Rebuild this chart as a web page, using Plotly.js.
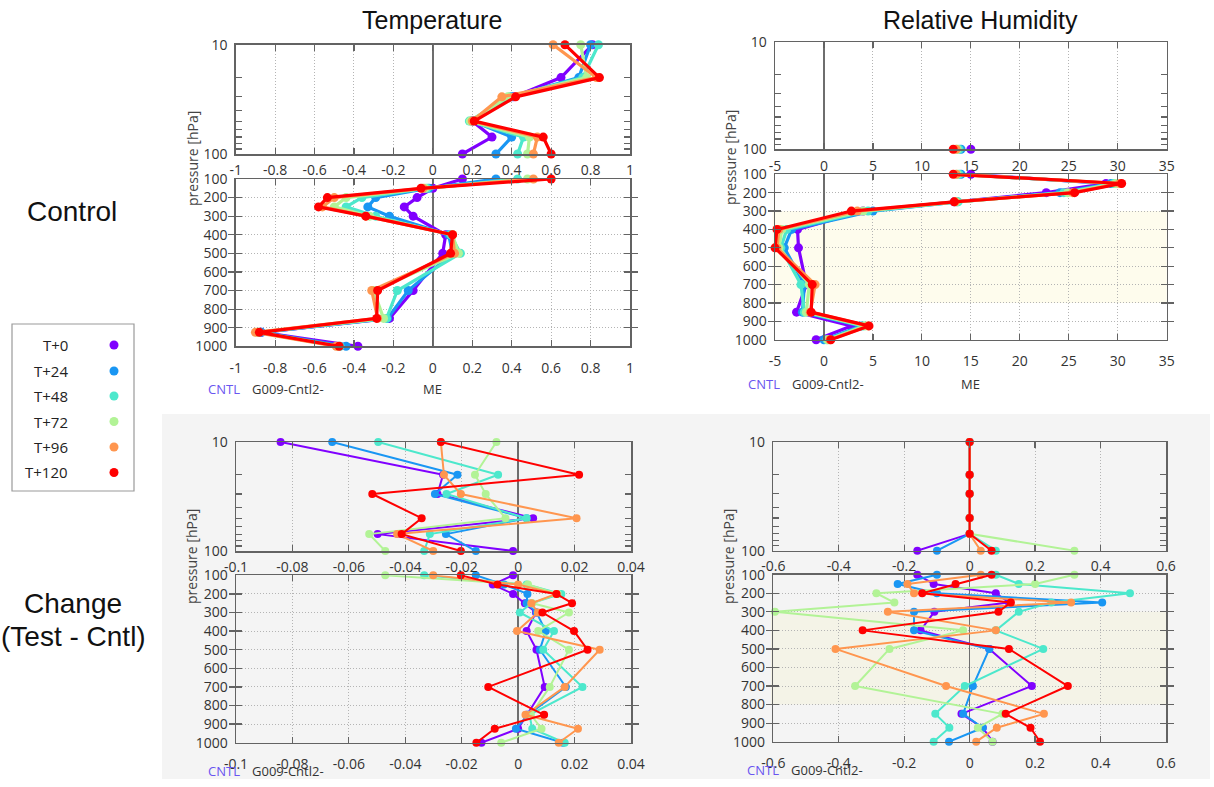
<!DOCTYPE html>
<html>
<head>
<meta charset="utf-8">
<script src="https://cdn.plot.ly/plotly-3.0.1.min.js"></script>
<style>
  html, body { margin: 0; padding: 0; background: #ffffff; }
  #chart { width: 1214px; height: 787px; }
</style>
</head>
<body>
<div id="chart"></div>
<script>
// Forecast lead times and pressure levels (hPa)
const leadTimes = ['T+0', 'T+24', 'T+48', 'T+72', 'T+96', 'T+120'];
const upperLevels = [10, 20, 30, 50, 70, 100];
const lowerLevels = [100, 150, 200, 250, 300, 400, 500, 700, 850, 925, 1000];

// Control: temperature mean error, one row per lead time
const cntlTempUpper = [
  [0.81, 0.65, 0.41, 0.20, 0.30, 0.15],
  [0.80, 0.74, 0.40, 0.20, 0.40, 0.32],
  [0.84, 0.76, 0.39, 0.185, 0.46, 0.43],
  [0.75, 0.78, 0.38, 0.19, 0.49, 0.48],
  [0.61, 0.83, 0.35, 0.20, 0.53, 0.51],
  [0.67, 0.845, 0.42, 0.21, 0.56, 0.60]
];
const cntlTempLower = [
  [0.15, 0.00, -0.08, -0.145, -0.10, 0.065, 0.05, -0.10, -0.22, -0.87, -0.38],
  [0.32, -0.02, -0.29, -0.33, -0.22, 0.08, 0.10, -0.125, -0.23, -0.87, -0.44],
  [0.43, -0.03, -0.36, -0.44, -0.29, 0.09, 0.14, -0.18, -0.235, -0.88, -0.47],
  [0.48, -0.04, -0.44, -0.50, -0.32, 0.10, 0.13, -0.30, -0.25, -0.89, -0.48],
  [0.51, -0.05, -0.50, -0.56, -0.34, 0.10, 0.11, -0.31, -0.28, -0.90, -0.49],
  [0.60, -0.06, -0.535, -0.58, -0.34, 0.10, 0.09, -0.28, -0.285, -0.88, -0.475]
];

// Control: relative humidity mean error
const cntlRhUpper = [
  [null, null, null, null, null, 15.0],
  [null, null, null, null, null, 14.0],
  [null, null, null, null, null, 13.8],
  [null, null, null, null, null, 13.6],
  [null, null, null, null, null, 13.5],
  [null, null, null, null, null, 13.2]
];
const cntlRhLower = [
  [15.0, 28.8, 22.7, 13.3, 4.0, -2.7, -2.6, -1.8, -2.8, 2.8, -0.8],
  [14.0, 29.3, 24.1, 13.6, 5.0, -3.3, -4.05, -2.0, -2.2, 3.8, 0.0],
  [13.8, 29.6, 24.5, 13.7, 4.5, -3.8, -4.4, -2.35, -2.0, 4.0, 0.3],
  [13.6, 29.8, 24.9, 13.5, 4.0, -4.3, -4.6, -1.5, -1.8, 4.2, 0.4],
  [13.5, 30.2, 25.4, 13.4, 3.4, -4.6, -4.8, -0.9, -1.4, 4.5, 0.6],
  [13.2, 30.4, 25.6, 13.3, 2.8, -4.8, -5.0, -1.2, -1.3, 4.6, 0.7]
];

// Change (Test - Cntl): temperature
const diffTempUpper = [
  [-0.0842, -0.0266, -0.0286, 0.0053, -0.0498, -0.0018],
  [-0.0659, -0.0215, -0.0295, 0.0030, -0.0256, -0.0150],
  [-0.0496, -0.0071, -0.0254, 0.0030, -0.0313, -0.0333],
  [-0.0077, -0.0153, -0.0115, -0.0045, -0.0528, -0.0471],
  [-0.0274, -0.0263, -0.0203, 0.0207, -0.0429, -0.0301],
  [-0.0274, 0.0216, -0.0517, -0.0342, -0.0413, -0.0203]
];
const diffTempLower = [
  [-0.0018, -0.0090, -0.0018, 0.0024, 0.0063, 0.0030, 0.0065, 0.0094, 0.0030, 0.0000, -0.0130],
  [-0.0150, -0.0050, 0.0033, 0.0030, 0.0065, 0.0098, 0.0077, 0.0169, 0.0035, -0.0008, 0.0159],
  [-0.0333, 0.0030, 0.0153, 0.0047, 0.0006, 0.0127, 0.0089, 0.0228, 0.0040, 0.0050, 0.0165],
  [-0.0471, 0.0035, 0.0140, 0.0050, 0.0180, 0.0071, 0.0180, 0.0112, 0.0045, 0.0083, -0.0060],
  [-0.0301, 0.0000, 0.0135, 0.0047, 0.0070, -0.0004, 0.0289, 0.0165, 0.0026, 0.0212, 0.0144],
  [-0.0203, -0.0073, 0.0136, 0.0191, 0.0086, 0.0198, 0.0246, -0.0106, 0.0092, -0.0083, -0.0148]
];

// Change (Test - Cntl): relative humidity
const diffRhUpper = [
  [0, 0, 0, 0, 0, -0.16],
  [0, 0, 0, 0, 0, -0.10],
  [0, 0, 0, 0, 0, 0.08],
  [0, 0, 0, 0, 0, 0.32],
  [0, 0, 0, 0, 0, 0.034],
  [0, 0, 0, 0, 0, 0.067]
];
const diffRhLower = [
  [-0.16, -0.11, 0.08, 0.12, -0.108, -0.15, 0.06, 0.19, -0.025, 0.04, 0.07],
  [-0.10, -0.22, -0.10, 0.405, -0.17, -0.17, 0.06, 0.01, -0.02, 0.04, -0.063],
  [0.08, 0.15, 0.49, 0.25, 0.15, 0.08, 0.225, -0.015, -0.105, -0.062, -0.11],
  [0.32, 0.20, -0.285, -0.23, -0.595, -0.02, -0.245, -0.35, 0.10, 0.025, 0.07],
  [0.034, -0.19, -0.17, 0.31, -0.25, 0.08, -0.41, -0.072, 0.227, 0.083, 0.02],
  [0.067, -0.043, -0.145, 0.126, 0.088, -0.327, 0.12, 0.30, 0.11, 0.186, 0.215]
];

// Tick values and labels
const cntlTempTicks = [-1, -0.8, -0.6, -0.4, -0.2, 0, 0.2, 0.4, 0.6, 0.8, 1];
const cntlTempTickText = ['-1', '-0.8', '-0.6', '-0.4', '-0.2', '0', '0.2', '0.4', '0.6', '0.8', '1'];
const cntlRhTicks = [-5, 0, 5, 10, 15, 20, 25, 30, 35];
const cntlRhTickText = ['-5', '0', '5', '10', '15', '20', '25', '30', '35'];
const diffTempTicks = [-0.1, -0.08, -0.06, -0.04, -0.02, 0, 0.02, 0.04];
const diffTempTickText = ['-0.1', '-0.08', '-0.06', '-0.04', '-0.02', '0', '0.02', '0.04'];
const diffRhTicks = [-0.6, -0.4, -0.2, 0, 0.2, 0.4, 0.6];
const diffRhTickText = ['-0.6', '-0.4', '-0.2', '0', '0.2', '0.4', '0.6'];
const upperTicks = [10, 20, 30, 40, 50, 60, 70, 80, 90, 100];
const upperTickText = ['10', '', '', '', '', '', '', '', '', '100'];
const lowerTicks = [100, 200, 300, 400, 500, 600, 700, 800, 900, 1000];
const lowerTickText = ['100', '200', '300', '400', '500', '600', '700', '800', '900', '1000'];

const seriesColors = ['#8000ff', '#1996f3', '#4ce8cc', '#b2f396', '#ff964f', '#ff0000'];

const W = 1214, H = 787;
const fx = px => px / W;
const fy = py => 1 - py / H;

const layout = {
  width: W, height: H,
  margin: { l: 0, r: 0, t: 0, b: 0 },
  paper_bgcolor: '#ffffff',
  plot_bgcolor: 'rgba(0,0,0,0)',
  showlegend: false,
  font: { family: 'Open Sans, sans-serif', size: 14, color: '#333333' },
  shapes: [],
  annotations: []
};
const traces = [];

const frame = {
  showline: true, linecolor: '#636363', linewidth: 1.5, mirror: 'allticks',
  ticks: 'inside', ticklen: 6, tickcolor: '#636363', tickwidth: 1.2
};
const grid = { showgrid: true, gridcolor: '#b4b4b4', griddash: '1px,2px', gridwidth: 1 };
const tickFont = { family: 'Open Sans, sans-serif', size: 14, color: '#333333' };

const key = (c, n) => n === 1 ? c + 'axis' : c + 'axis' + n;
const ref = (c, n) => n === 1 ? c : c + n;

function addPanel(n, box, xr, xt, xtt, upper, rows, lw, ms, labelAxis) {
  const xa = Object.assign({}, frame, grid, {
    domain: [fx(box[0]), fx(box[1])], anchor: ref('y', n),
    range: xr, autorange: false, tickvals: xt, ticktext: xtt,
    showticklabels: !upper, tickfont: tickFont, ticklabelstandoff: 8,
    zeroline: true, zerolinecolor: '#6e6e6e', zerolinewidth: 1.5,
    fixedrange: true
  });
  const ya = Object.assign({}, frame, {
    domain: [fy(box[3]), fy(box[2])], anchor: ref('x', n),
    tickfont: tickFont, zeroline: false, fixedrange: true, ticklabelstandoff: 4
  });
  if (upper) {
    Object.assign(ya, {
      type: 'log', range: [2, 1], autorange: false,
      tickvals: upperTicks, ticktext: upperTickText, showgrid: false
    });
  } else {
    Object.assign(ya, grid, {
      range: [1000, 100], autorange: false,
      tickvals: lowerTicks, ticktext: lowerTickText
    });
  }
  layout[key('x', n)] = xa;
  layout[key('y', n)] = ya;

  const levels = upper ? upperLevels : lowerLevels;
  rows.forEach((vals, i) => {
    traces.push({
      type: 'scatter', mode: 'lines+markers',
      name: leadTimes[i],
      x: vals, y: levels,
      xaxis: ref('x', n), yaxis: ref('y', n),
      line: { color: seriesColors[i], width: lw },
      marker: { color: seriesColors[i], size: ms },
      cliponaxis: false, connectgaps: false,
      hoverinfo: 'x+y+name'
    });
  });

  if (labelAxis) {
    // tick labels along the top edge of the lower panel
    layout[key('x', labelAxis)] = {
      overlaying: ref('x', n), side: 'top', anchor: ref('y', n),
      range: xr, autorange: false, tickvals: xt, ticktext: xtt,
      showline: false, showgrid: false, zeroline: false, ticks: '',
      tickfont: tickFont, ticklabelstandoff: 0, fixedrange: true
    };
    traces.push({
      type: 'scatter', mode: 'markers', x: [], y: [],
      xaxis: ref('x', labelAxis), yaxis: ref('y', n),
      showlegend: false, hoverinfo: 'skip'
    });
  }
}

// Lower half background
layout.shapes.push({
  type: 'rect', xref: 'paper', yref: 'paper', layer: 'below',
  x0: fx(162), x1: fx(1210), y0: fy(779), y1: fy(414),
  fillcolor: '#f4f4f4', line: { width: 0 }
});

addPanel(1, [235.7, 630, 44.7, 154], [-1, 1], cntlTempTicks, cntlTempTickText, true, cntlTempUpper, 3.2, 9);
addPanel(2, [235.7, 630, 179, 346.3], [-1, 1], cntlTempTicks, cntlTempTickText, false, cntlTempLower, 3.2, 9, 9);
addPanel(3, [775, 1166.7, 42, 149.3], [-5, 35], cntlRhTicks, cntlRhTickText, true, cntlRhUpper, 3.2, 9);
addPanel(4, [775, 1166.7, 174.3, 339.7], [-5, 35], cntlRhTicks, cntlRhTickText, false, cntlRhLower, 3.2, 9, 10);
addPanel(5, [236, 631, 442, 551], [-0.1, 0.04], diffTempTicks, diffTempTickText, true, diffTempUpper, 2, 8);
addPanel(6, [236, 631, 575.3, 742.7], [-0.1, 0.04], diffTempTicks, diffTempTickText, false, diffTempLower, 2, 8, 11);
addPanel(7, [773.3, 1166, 442, 550.7], [-0.6, 0.6], diffRhTicks, diffRhTickText, true, diffRhUpper, 2, 8);
addPanel(8, [773.3, 1166, 574.7, 741.7], [-0.6, 0.6], diffRhTicks, diffRhTickText, false, diffRhLower, 2, 8, 12);

// Mid-troposphere band on the humidity panels (300-800 hPa)
[4, 8].forEach(n => {
  layout.shapes.push({
    type: 'rect', xref: ref('x', n) + ' domain', yref: ref('y', n), layer: 'below',
    x0: -0.006, x1: 1, y0: 300, y1: 800,
    fillcolor: n === 4 ? 'rgba(248,238,150,0.17)' : 'rgba(250,240,150,0.13)', line: { width: 0 }
  });
});

function text(t, x, y, opts) {
  layout.annotations.push(Object.assign({
    text: t, xref: 'paper', yref: 'paper', x: fx(x), y: fy(y),
    showarrow: false, xanchor: 'center', yanchor: 'middle',
    font: { family: 'Open Sans, sans-serif', size: 14, color: '#333333' }
  }, opts || {}));
}

const headFont = { family: 'Liberation Sans, Arial, sans-serif', size: 25, color: '#111111' };
const rowFont = { family: 'Liberation Sans, Arial, sans-serif', size: 28, color: '#111111' };
text('Temperature', 432, 20, { font: headFont });
text('Relative Humidity', 980, 20, { font: headFont });
text('Control', 72, 212, { font: rowFont });
text('Change', 73, 603, { font: rowFont });
text('(Test - Cntl)', 73, 636, { font: rowFont });

const axisTitleFont = { family: 'Open Sans, sans-serif', size: 14, color: '#444444' };
[[192, 158], [730, 158], [191, 557], [728, 557]].forEach(p => {
  text('pressure [hPa]', p[0], p[1], { textangle: -90, font: axisTitleFont });
});

const tagFont = { family: 'Open Sans, sans-serif', size: 13, color: '#333333' };
const cntlFont = { family: 'Open Sans, sans-serif', size: 13, color: '#6a55f0' };
[[206, 250, 389], [746, 790, 384], [206, 250, 771], [745, 789, 770]].forEach(p => {
  text('CNTL', p[0], p[2], { xanchor: 'left', font: cntlFont });
  text('G009-Cntl2-', p[1], p[2], { xanchor: 'left', font: tagFont });
});
text('ME', 432, 389, { font: tagFont });
text('ME', 970, 384, { font: tagFont });

// Lead-time key
layout.shapes.push({
  type: 'rect', xref: 'paper', yref: 'paper',
  x0: fx(12), x1: fx(134), y0: fy(491), y1: fy(324),
  fillcolor: '#ffffff', line: { color: '#9a9a9a', width: 1.2 }
});
const keyRows = [345, 371, 396, 421.5, 447, 472.5];
leadTimes.forEach((lt, i) => {
  text(lt, 70, keyRows[i], { xanchor: 'right', font: { family: 'Open Sans, sans-serif', size: 15, color: '#222222' } });
  layout.shapes.push({
    type: 'circle', xref: 'paper', yref: 'paper',
    xsizemode: 'pixel', ysizemode: 'pixel',
    xanchor: fx(114), yanchor: fy(keyRows[i]),
    x0: -4.5, x1: 4.5, y0: -4.5, y1: 4.5,
    fillcolor: seriesColors[i], line: { width: 0 }
  });
});

Plotly.newPlot('chart', traces, layout, { displayModeBar: false, staticPlot: true });
</script>
</body>
</html>
